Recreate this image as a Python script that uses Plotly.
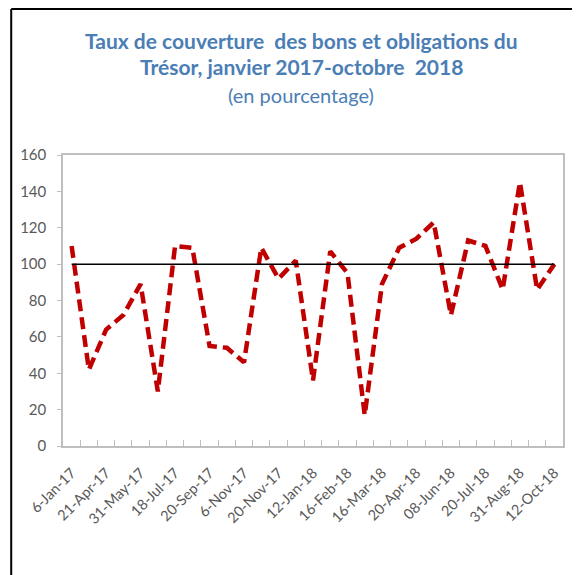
import plotly.graph_objects as go

# ---- data ----
tick_labels = ["6-Jan-17", "21-Apr-17", "31-May-17", "18-Jul-17", "20-Sep-17",
               "6-Nov-17", "20-Nov-17", "12-Jan-18", "16-Feb-18", "16-Mar-18",
               "20-Apr-18", "08-Jun-18", "20-Jul-18", "31-Aug-18", "12-Oct-18"]
taux = [110, 42, 64, 72, 89, 30, 110, 109, 55, 54,
        46, 109, 92, 102, 36, 107, 95, 17, 89, 109,
        114, 123, 72, 113, 110, 86, 145, 86, 100]
reference_level = [100] * len(taux)

idx = list(range(len(taux)))
label_pos = idx[::2]
boundaries = [i - 0.5 for i in range(len(taux) + 1)]

title_color = "#4A7EB5"
tick_color = "#595959"
axis_color = "#BFBFBF"
font_family = "Lato"

W, H = 572, 567
ML, MR, MT, MB = 53, 17, 147, 129
PW = W - ML - MR
PH = H - MT - MB

fig = go.Figure()
fig.add_trace(go.Scatter(x=idx, y=reference_level, mode="lines",
                         line=dict(color="black", width=1.5),
                         xaxis="x2", yaxis="y", showlegend=False))
fig.add_trace(go.Scatter(x=idx, y=taux, mode="lines",
                         line=dict(color="#C00000", width=4.5, dash="12px,6px"),
                         xaxis="x", yaxis="y", showlegend=False))

rng = [-0.5, len(taux) - 0.5]
fig.update_layout(
    width=W, height=H,
    margin=dict(l=ML, r=MR, t=MT, b=MB),
    paper_bgcolor="white", plot_bgcolor="white",
    font=dict(family=font_family, color=tick_color),
    xaxis=dict(range=rng, tickmode="array", tickvals=label_pos, ticktext=tick_labels,
               tickangle=-45, ticks="", ticklabelstandoff=11,
               showline=True, linecolor=axis_color,
               linewidth=1.5, mirror=True, showgrid=False, zeroline=False,
               tickfont=dict(size=14.5, color=tick_color, family=font_family)),
    xaxis2=dict(range=rng, overlaying="x", anchor="y", side="bottom",
                tickmode="array", tickvals=boundaries, ticktext=[""] * len(boundaries),
                ticks="inside", ticklen=6, tickcolor=axis_color, tickwidth=1,
                showline=False, showgrid=False, zeroline=False),
    yaxis=dict(range=[0, 160], dtick=20, tick0=0, ticks="outside", ticklen=4,
               tickcolor=axis_color, ticklabelstandoff=8,
               showline=True, linecolor=axis_color,
               linewidth=1.5, mirror=True, showgrid=False, zeroline=False,
               tickfont=dict(size=15, color=tick_color, family=font_family)),
    showlegend=False,
)

def py(page_y):
    return (H - MB + 8 - page_y) / PH

def px(page_x):
    return (page_x - 8 - ML) / PW

# titles
fig.add_annotation(text="<b>Taux de couverture  des bons et obligations du</b>",
                   xref="paper", yref="paper", x=px(300), y=py(40),
                   xanchor="center", yanchor="middle", showarrow=False,
                   font=dict(size=21, color=title_color, family=font_family))
fig.add_annotation(text="<b>Trésor, janvier 2017-octobre  2018</b>",
                   xref="paper", yref="paper", x=px(300), y=py(67),
                   xanchor="center", yanchor="middle", showarrow=False,
                   font=dict(size=21, color=title_color, family=font_family))
fig.add_annotation(text="(en pourcentage)",
                   xref="paper", yref="paper", x=px(300), y=py(95),
                   xanchor="center", yanchor="middle", showarrow=False,
                   font=dict(size=20, color=title_color, family=font_family))

# outer chart frame (left and top visible)
fx0 = px(9)
fy1 = py(9)
fig.add_shape(type="line", xref="paper", yref="paper", x0=fx0, x1=fx0,
              y0=fy1, y1=py(600), line=dict(color="black", width=2))
fig.add_shape(type="line", xref="paper", yref="paper", x0=fx0, x1=px(600),
              y0=fy1, y1=fy1, line=dict(color="black", width=2))

fig.write_html("out.html")
